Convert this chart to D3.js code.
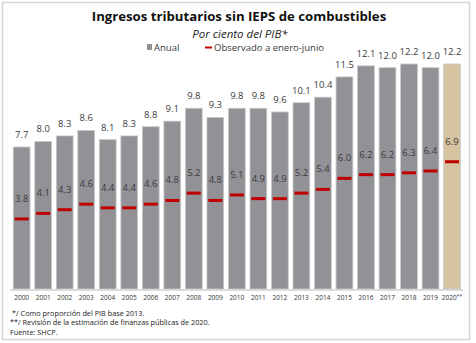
<!DOCTYPE html>
<html>
<head>
<meta charset="utf-8">
<script src="https://cdn.jsdelivr.net/npm/d3@7"></script>
<style>
  body { margin: 0; background: #fff; }
  svg text { font-family: "Open Sans", sans-serif; }
</style>
</head>
<body>
<div id="chart"></div>
<script>
// Data
const years = ["2000","2001","2002","2003","2004","2005","2006","2007","2008","2009","2010",
               "2011","2012","2013","2014","2015","2016","2017","2018","2019","2020"];
const anual = [7.7, 8.0, 8.3, 8.6, 8.1, 8.3, 8.8, 9.1, 9.8, 9.3, 9.8,
               9.8, 9.6, 10.1, 10.4, 11.5, 12.1, 12.0, 12.2, 12.0, 12.2];
const observado = [3.8, 4.1, 4.3, 4.6, 4.4, 4.4, 4.6, 4.8, 5.2, 4.8, 5.1,
                   4.9, 4.9, 5.2, 5.4, 6.0, 6.2, 6.2, 6.3, 6.4, 6.9];
const notes = [
    "*/ Como proporción del PIB base 2013.",
    "**/ Revisión de la estimación de finanzas públicas de 2020.",
    "Fuente: SHCP."
];

const W = 476, H = 343;
const grey = "#929296", tan = "#d5c29e", red = "#c00000", txt = "#3a3a3a";

const svg = d3.select("#chart").append("svg")
    .attr("width", W)
    .attr("height", H);

// frame
svg.append("rect")
    .attr("x", 2.5).attr("y", 2.5)
    .attr("width", 467).attr("height", 337)
    .attr("fill", "none")
    .attr("stroke", "#d6d6d6")
    .attr("stroke-width", 1.5);

// Scales
const x = d3.scaleBand()
    .domain(years)
    .range([10.9, 462.8])
    .paddingInner(0.22)
    .paddingOuter(0.11);

const y = d3.scaleLinear()
    .domain([0, 12.2])
    .range([289, 64]);

// title
svg.append("text")
    .attr("x", 239).attr("y", 21)
    .attr("text-anchor", "middle")
    .attr("font-size", 13.2)
    .attr("font-weight", "bold")
    .attr("fill", "#111")
    .text("Ingresos tributarios sin IEPS de combustibles");

svg.append("text")
    .attr("x", 240).attr("y", 37.5)
    .attr("text-anchor", "middle")
    .attr("font-size", 11.5)
    .attr("font-style", "italic")
    .attr("fill", "#222")
    .text("Por ciento del PIB*");

// legend
let lg = svg.append("g").attr("font-size", 9.5).attr("fill", txt);
lg.append("rect").attr("x", 147).attr("y", 44).attr("width", 5).attr("height", 6).attr("fill", grey);
lg.append("text").attr("x", 154).attr("y", 50.5).text("Anual");
lg.append("rect").attr("x", 205).attr("y", 46.5).attr("width", 7).attr("height", 2).attr("fill", red);
lg.append("text").attr("x", 214).attr("y", 50.5).text("Observado a enero-junio");

// bars
svg.selectAll(".bar")
    .data(years)
    .enter().append("rect")
    .attr("class", "bar")
    .attr("x", d => x(d))
    .attr("y", (d, i) => y(anual[i]))
    .attr("width", x.bandwidth())
    .attr("height", (d, i) => y(0) - y(anual[i]))
    .attr("fill", (d, i) => i == years.length - 1 ? tan : grey)
    .attr("stroke", "#c9c9cc")
    .attr("stroke-width", 0.8);

// axis line
svg.append("line")
    .attr("x1", 10).attr("x2", 463)
    .attr("y1", 290).attr("y2", 290)
    .attr("stroke", "#d0d0d0")
    .attr("stroke-width", 1.5);

// red markers
svg.selectAll(".obs")
    .data(years)
    .enter().append("rect")
    .attr("class", "obs")
    .attr("x", d => x(d) + x.bandwidth() / 2 - 7)
    .attr("y", (d, i) => y(observado[i]) - 1.5)
    .attr("width", 14)
    .attr("height", 3)
    .attr("fill", red);

// value labels
svg.selectAll(".lbl-anual")
    .data(years)
    .enter().append("text")
    .attr("class", "lbl-anual")
    .attr("x", d => x(d) + x.bandwidth() / 2)
    .attr("y", (d, i) => y(anual[i]) - 9)
    .attr("text-anchor", "middle")
    .attr("font-size", 9.5)
    .attr("fill", txt)
    .text((d, i) => anual[i].toFixed(1));

svg.selectAll(".lbl-obs")
    .data(years)
    .enter().append("text")
    .attr("class", "lbl-obs")
    .attr("x", d => x(d) + x.bandwidth() / 2)
    .attr("y", (d, i) => y(observado[i]) - 17)
    .attr("text-anchor", "middle")
    .attr("font-size", 9.5)
    .attr("fill", txt)
    .text((d, i) => observado[i].toFixed(1));

// year labels
let yl = svg.selectAll(".year")
    .data(years)
    .enter().append("text")
    .attr("class", "year")
    .attr("x", d => x(d) + x.bandwidth() / 2)
    .attr("y", 300)
    .attr("text-anchor", "middle")
    .attr("font-size", 6.5)
    .attr("fill", "#333")
    .text(d => d);
yl.filter(d => d == "2020").append("tspan")
    .attr("dy", -2.5)
    .attr("font-size", 5)
    .text("**");

// footnotes
svg.selectAll(".note")
    .data(notes)
    .enter().append("text")
    .attr("class", "note")
    .attr("x", (d, i) => i == 0 ? 12 : 10)
    .attr("y", (d, i) => 315.5 + i * 9.5)
    .attr("font-size", 7.3)
    .attr("fill", "#222")
    .text(d => d);
</script>
</body>
</html>
